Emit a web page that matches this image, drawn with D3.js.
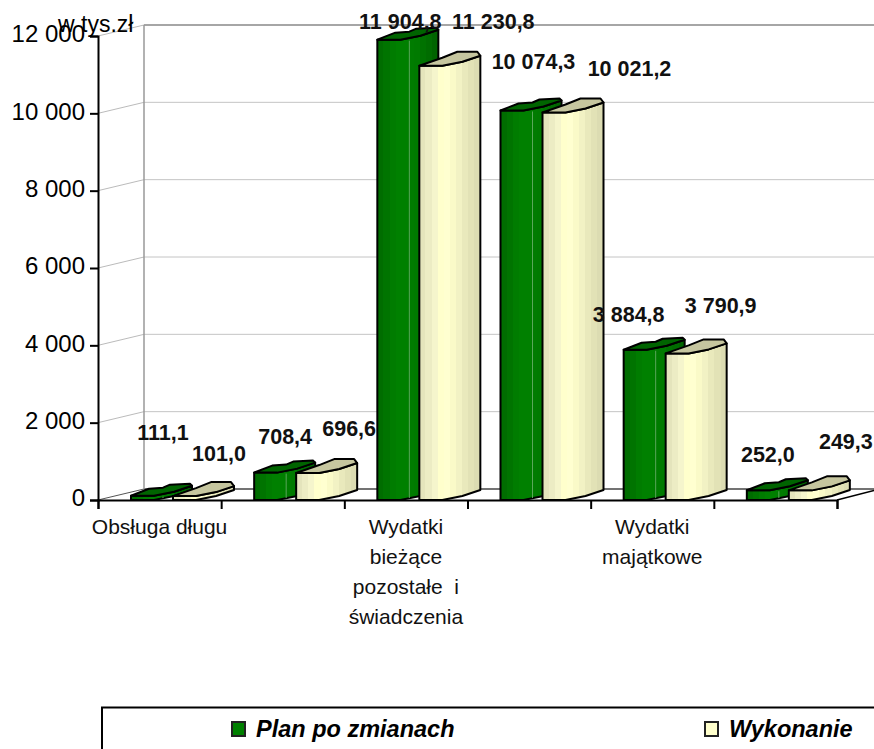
<!DOCTYPE html>
<html>
<head>
    <meta charset="utf-8">
    <title>Plan po zmianach / Wykonanie</title>
    <script src="https://d3js.org/d3.v7.min.js"></script>
    <style>
        body { margin: 0; background: white; }
        text { font-family: "Liberation Sans", Arial, sans-serif; fill: #000; }
        .value-label { font-size: 21.5px; font-weight: bold; text-anchor: middle; fill: #111; }
        .cat-label { font-size: 21px; text-anchor: middle; fill: #111; }
        .tick text { font-size: 24px; font-family: "Liberation Sans", Arial, sans-serif; }
        .legend-label { font-size: 23.5px; font-weight: bold; font-style: italic; }
    </style>
</head>
<body>
    <svg id="chart" width="874" height="749"></svg>

    <script>
        // Data (only every other category has a visible label)
        var categories = ['Obsługa długu', ' ', 'Wydatki|bieżące|pozostałe  i|świadczenia', '  ', 'Wydatki|majątkowe', '   '];
        var seriesNames = ['Plan po zmianach', 'Wykonanie'];
        var plan = [111.1, 708.4, 11904.8, 10074.3, 3884.8, 252.0];
        var wykonanie = [101.0, 696.6, 11230.8, 10021.2, 3790.9, 249.3];
        var yTicks = [0, 2000, 4000, 6000, 8000, 10000, 12000];
        var unitLabel = 'w tys.zł';

        // Hand placed value labels in the original, offset from the bar's front top corner
        var labelOffsets = [
            [[32, -56], [46, -35]],
            [[31, -29], [53, -37]],
            [[23, -11], [74, -37]],
            [[33, -41.5], [87, -36.5]],
            [[5, -28], [55, -40]],
            [[21, -28], [57, -41]]
        ];

        var svg = d3.select('#chart');
        var defs = svg.append('defs');

        var x0 = 98, x1 = 837, yBase = 500, yTop = 36;
        var depthX = 46, depthY = -11;

        var x = d3.scaleBand().domain(categories).range([x0, x1]);
        var xInner = d3.scaleBand().domain(seriesNames).range([33, 117]);
        var y = d3.scaleLinear().domain([0, 12000]).range([yBase, yTop]);

        var fmt = function (v) { return d3.format(',.1f')(v).replace(/,/g, ' ').replace('.', ','); };

        function stripes(id, colors) {
            var g = defs.append('linearGradient').attr('id', id);
            colors.forEach(function (c, i) {
                g.append('stop').attr('offset', i / colors.length).attr('stop-color', c);
                g.append('stop').attr('offset', (i + 1) / colors.length).attr('stop-color', c);
            });
        }
        stripes('planFill', ['#006d00', '#007400', '#007c00', '#008000', '#008000', '#007c00', '#007a00', '#007200', '#006c00', '#006400']);
        stripes('wykFill', ['#e4e4bc', '#ecECC4', '#f5f5cc', '#ffffcc', '#ffffd0', '#fafac8', '#f2f2c4', '#e9e9bc', '#e2e2b6', '#dcdcb2']);

        var styles = [
            { body: 'url(#planFill)', top: '#006400', swatch: '#008000',
              shape: [[0, 0], [18, -7], [32, -8], [39, -11], [59, -12], [61, -10], [43, -4], [23, 0]] },
            { body: 'url(#wykFill)', top: '#c6c69f', swatch: '#ffffcc',
              shape: [[0, 0], [23, -8], [38, -14], [58, -14], [61, -10], [43, -4], [23, 0]] }
        ];

        // Walls and gridlines
        var grid = svg.append('g');
        yTicks.forEach(function (t, i) {
            var yy = y(t);
            var isEnd = (i === 0 || i === yTicks.length - 1);
            grid.append('line').attr('x1', x0).attr('y1', yy).attr('x2', x0 + depthX).attr('y2', yy + depthY)
                .attr('stroke', i === 0 ? '#555' : '#bbb').attr('stroke-width', 1);
            grid.append('line').attr('x1', x0 + depthX).attr('y1', yy + depthY).attr('x2', 874).attr('y2', yy + depthY)
                .attr('stroke', i === 0 ? '#444' : (isEnd ? '#888' : '#c4c4c4')).attr('stroke-width', isEnd ? 1.5 : 1);
        });
        grid.append('line').attr('x1', x0 + depthX).attr('y1', y(12000) + depthY).attr('x2', x0 + depthX).attr('y2', y(0) + depthY)
            .attr('stroke', '#999').attr('stroke-width', 1.5);

        // Floor edge on the right
        svg.append('line').attr('x1', x1).attr('y1', yBase).attr('x2', 874).attr('y2', yBase - 9.5)
            .attr('stroke', '#000').attr('stroke-width', 1.5);

        // Axes
        var yAxis = svg.append('g').attr('transform', 'translate(' + x0 + ',0)')
            .call(d3.axisLeft(y).tickValues(yTicks).tickSize(8).tickPadding(5)
                .tickFormat(function (d) { return d3.format(',')(d).replace(/,/g, ' '); }));
        yAxis.selectAll('path, line').attr('stroke', '#000').attr('stroke-width', 2);
        yAxis.selectAll('text').attr('dy', '0.24em');

        var xAxis = svg.append('g').attr('transform', 'translate(0,' + yBase + ')')
            .call(d3.axisBottom(d3.scaleLinear().domain([0, categories.length]).range([x0, x1]))
                .ticks(categories.length).tickSizeOuter(0).tickSize(9).tickFormat(''));
        xAxis.selectAll('path, line').attr('stroke', '#000').attr('stroke-width', 2);

        // Bars, the outline is the odd rounded column of the original
        var columns = categories.map(function (c, i) {
            return [plan[i], wykonanie[i]];
        });

        var frontShape = [[0, 0], [23, 0], [43, -4], [61, -10]];
        var line = d3.line();

        var groups = svg.selectAll('.cat').data(columns).enter().append('g').attr('class', 'cat');
        groups.each(function (vals, ci) {
            var g = d3.select(this);
            vals.forEach(function (v, si) {
                var left = x(categories[ci]) + xInner(seriesNames[si]);
                var top = y(v);
                var front = frontShape.map(function (p) { return [left + p[0], yBase + p[1]]; });
                var upper = frontShape.slice().reverse().map(function (p) { return [left + p[0], top + p[1]]; });
                g.append('path').attr('d', line(front.concat(upper)) + 'Z')
                    .attr('fill', styles[si].body).attr('stroke', '#000').attr('stroke-width', 2).attr('stroke-linejoin', 'round');
                if (si === 0) {
                    // faint highlight on the green column
                    g.append('line').attr('x1', left + 32).attr('x2', left + 32).attr('y1', top + 1).attr('y2', yBase - 2)
                        .attr('stroke', '#5aa85a').attr('stroke-width', 1);
                }
                g.append('path').attr('d', line(styles[si].shape.map(function (p) { return [left + p[0], top + p[1]]; })) + 'Z')
                    .attr('fill', styles[si].top).attr('stroke', '#000').attr('stroke-width', 2).attr('stroke-linejoin', 'round');
            });
        });

        // Value labels
        columns.forEach(function (vals, ci) {
            vals.forEach(function (v, si) {
                var off = labelOffsets[ci][si];
                svg.append('text').attr('class', 'value-label')
                    .attr('x', x(categories[ci]) + xInner(seriesNames[si]) + off[0])
                    .attr('y', y(v) + off[1])
                    .text(fmt(v));
            });
        });

        // Category labels
        categories.forEach(function (c) {
            var t = svg.append('text').attr('class', 'cat-label')
                .attr('x', x(c) + x.bandwidth() / 2).attr('y', 534)
                .attr('xml:space', 'preserve');
            c.trim().split('|').forEach(function (part, i) {
                t.append('tspan').attr('x', x(c) + x.bandwidth() / 2).attr('dy', i === 0 ? 0 : 30).text(part);
            });
        });

        svg.append('text').attr('x', 58).attr('y', 32).style('font-size', '23px').text(unitLabel);

        // Legend box runs off the page on the right and the bottom
        svg.append('path').attr('d', 'M102,749V707.5H874').attr('fill', 'none').attr('stroke', '#000').attr('stroke-width', 2);

        var legendX = [232, 705];
        seriesNames.forEach(function (name, i) {
            svg.append('rect').attr('x', legendX[i]).attr('y', 722).attr('width', 13).attr('height', 14)
                .attr('fill', styles[i].swatch).attr('stroke', '#222').attr('stroke-width', 2);
            svg.append('text').attr('class', 'legend-label').attr('x', legendX[i] + 24).attr('y', 737).text(name);
        });
    </script>
</body>
</html>
